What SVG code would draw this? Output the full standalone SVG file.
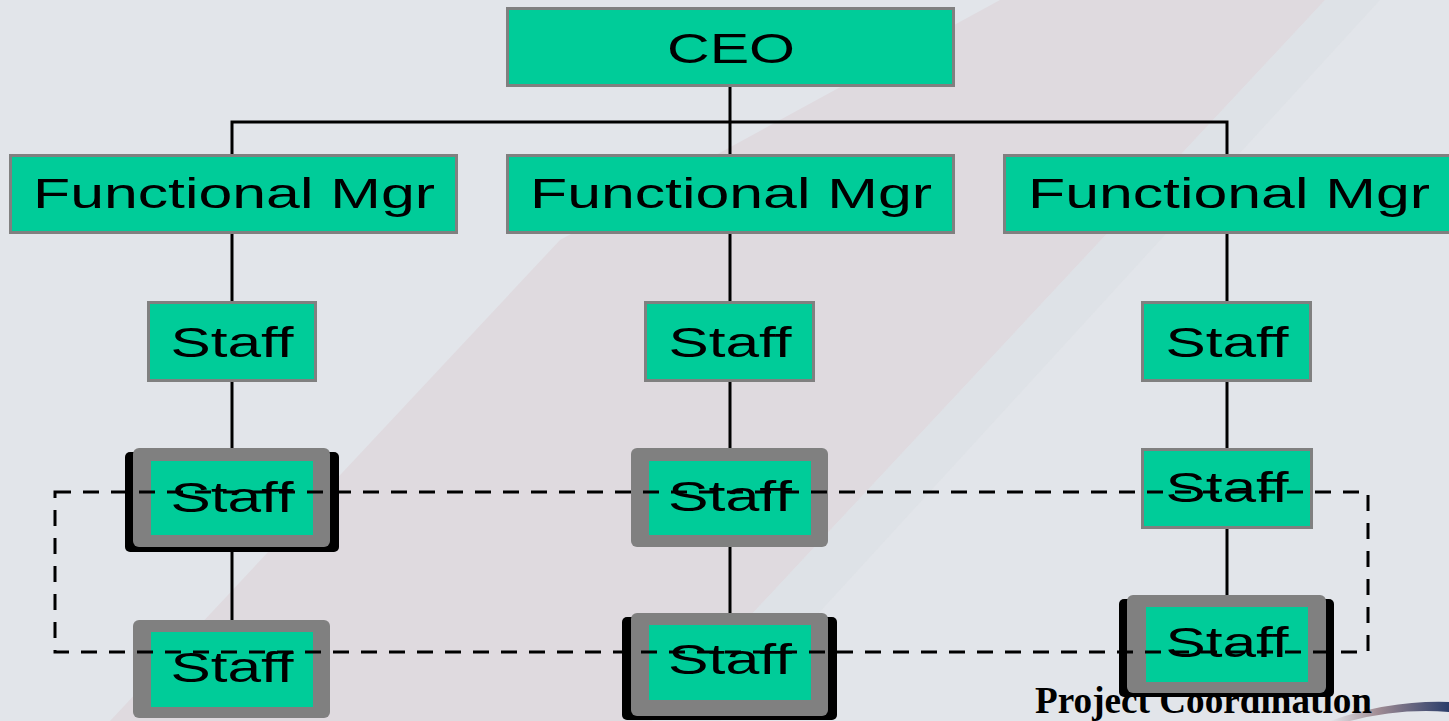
<svg xmlns="http://www.w3.org/2000/svg" width="1449" height="721" viewBox="0 0 1449 721">
<style>
.box{fill:#00cc99;stroke:#808080;stroke-width:3}
.inner{fill:#00cc99}
.frame{fill:#808080}
.shadow{fill:#000}
.lbl{font-family:"Liberation Sans",Arial,sans-serif;font-size:43px;fill:#000;text-anchor:middle}
.conn{stroke:#000;stroke-width:3;fill:none}
.dash{stroke:#000;stroke-width:3;fill:none;stroke-dasharray:16 12}
.title{font-family:"Liberation Serif","Times New Roman",serif;font-weight:bold;font-size:37px;fill:#000}
</style>
<defs>
<linearGradient id="swoosh" x1="0" y1="0" x2="1" y2="0">
<stop offset="0" stop-color="#e2e5ea"/>
<stop offset="0.4" stop-color="#a08c94"/>
<stop offset="1" stop-color="#2a3d6a"/>
</linearGradient>
</defs>
<rect x="0" y="0" width="1449" height="721" fill="#e2e5ea"/>
<g id="background">
<polygon points="110,721 560,240 1000,0 1325,0 652,721" fill="#dfdadf"/>
<polygon points="652,721 1325,0 1380,0 720,721" fill="#dcdfe4" opacity="0.6"/>
<path d="M1330,721 Q1390,700 1449,702 L1449,712 Q1400,708 1350,721 Z" fill="url(#swoosh)"/>
</g>
<g id="connectors">
<line class="conn" x1="730" y1="86" x2="730" y2="155"/>
<polyline class="conn" points="232,155 232,122 1227,122 1227,155"/>
<line class="conn" x1="232" y1="233" x2="232" y2="302"/>
<line class="conn" x1="730" y1="233" x2="730" y2="302"/>
<line class="conn" x1="1227" y1="233" x2="1227" y2="302"/>
<line class="conn" x1="232" y1="381" x2="232" y2="450"/>
<line class="conn" x1="730" y1="381" x2="730" y2="450"/>
<line class="conn" x1="1227" y1="381" x2="1227" y2="450"/>
<line class="conn" x1="232" y1="548" x2="232" y2="621"/>
<line class="conn" x1="730" y1="546" x2="730" y2="614"/>
<line class="conn" x1="1227" y1="528" x2="1227" y2="596"/>
</g>
<text class="title" x="1035" y="713" textLength="337" lengthAdjust="spacingAndGlyphs">Project Coordination</text>
<g id="ceo">
<rect class="box" x="507.5" y="8.5" width="446" height="77"/>
<text class="lbl" x="731" y="63" textLength="128" lengthAdjust="spacingAndGlyphs">CEO</text>
</g>
<g id="fm1">
<rect class="box" x="10.5" y="155.5" width="446" height="77"/>
<text class="lbl" x="234" y="208" textLength="402" lengthAdjust="spacingAndGlyphs">Functional Mgr</text>
</g>
<g id="fm2">
<rect class="box" x="507.5" y="155.5" width="446" height="77"/>
<text class="lbl" x="731" y="208" textLength="402" lengthAdjust="spacingAndGlyphs">Functional Mgr</text>
</g>
<g id="fm3">
<rect class="box" x="1004.5" y="155.5" width="460" height="77"/>
<text class="lbl" x="1229" y="208" textLength="402" lengthAdjust="spacingAndGlyphs">Functional Mgr</text>
</g>
<g id="staff-1-1">
<rect class="box" x="148.5" y="302.5" width="167" height="78"/>
<text class="lbl" x="232" y="357" textLength="123" lengthAdjust="spacingAndGlyphs">Staff</text>
</g>
<g id="staff-2-1">
<rect class="box" x="645.5" y="302.5" width="168" height="78"/>
<text class="lbl" x="730" y="357" textLength="123" lengthAdjust="spacingAndGlyphs">Staff</text>
</g>
<g id="staff-3-1">
<rect class="box" x="1142.5" y="302.5" width="168" height="78"/>
<text class="lbl" x="1227" y="357" textLength="123" lengthAdjust="spacingAndGlyphs">Staff</text>
</g>
<g id="staff-1-2">
<rect class="shadow" x="125" y="452" width="214" height="100" rx="5"/>
<rect class="frame" x="133" y="448" width="197" height="99" rx="6"/>
<rect class="inner" x="151" y="461" width="162" height="74"/>
<text class="lbl" x="232" y="512" textLength="123" lengthAdjust="spacingAndGlyphs">Staff</text>
</g>
<g id="staff-2-2">
<rect class="frame" x="631" y="448" width="197" height="99" rx="6"/>
<rect class="inner" x="649" y="461" width="162" height="74"/>
<text class="lbl" x="730" y="511" textLength="124" lengthAdjust="spacingAndGlyphs">Staff</text>
</g>
<g id="staff-3-2">
<rect class="box" x="1142.5" y="449.5" width="169" height="78"/>
<text class="lbl" x="1227" y="502" textLength="123" lengthAdjust="spacingAndGlyphs">Staff</text>
</g>
<g id="staff-1-3">
<rect class="frame" x="133" y="620" width="197" height="98" rx="6"/>
<rect class="inner" x="151" y="632" width="162" height="75"/>
<text class="lbl" x="232" y="682" textLength="123" lengthAdjust="spacingAndGlyphs">Staff</text>
</g>
<g id="staff-2-3">
<rect class="shadow" x="622" y="617" width="215" height="103" rx="5"/>
<rect class="frame" x="631" y="613" width="197" height="103" rx="6"/>
<rect class="inner" x="649" y="625" width="162" height="75"/>
<text class="lbl" x="730" y="674" textLength="124" lengthAdjust="spacingAndGlyphs">Staff</text>
</g>
<g id="staff-3-3">
<rect class="shadow" x="1119" y="599" width="215" height="98" rx="5"/>
<rect class="frame" x="1127" y="595" width="199" height="98" rx="6"/>
<rect class="inner" x="1146" y="607" width="162" height="75"/>
<text class="lbl" x="1227" y="657" textLength="123" lengthAdjust="spacingAndGlyphs">Staff</text>
</g>
<g id="project-boundary">
<rect class="dash" x="55" y="492" width="1313" height="160"/>
</g>
</svg>
